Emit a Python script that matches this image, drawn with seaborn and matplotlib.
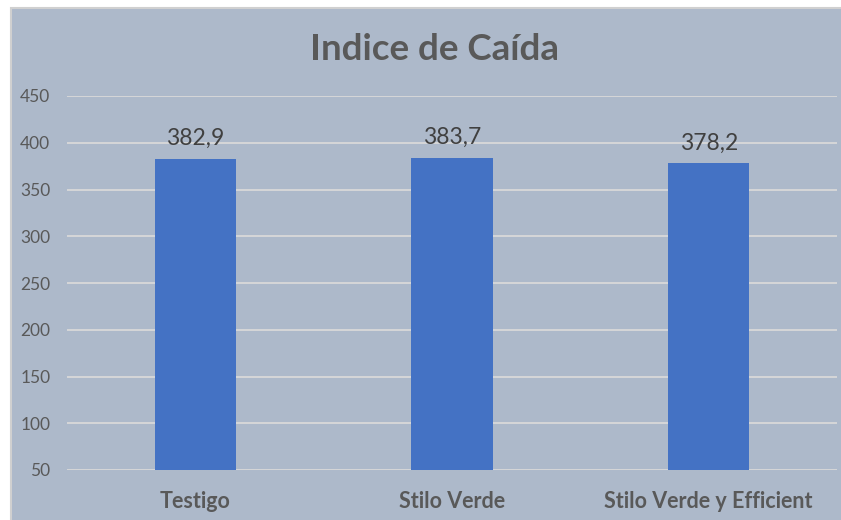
import seaborn as sns
import matplotlib.pyplot as plt
from matplotlib.patches import Rectangle
import pandas as pd

# Dados do gráfico
categorias = ["Testigo", "Stilo Verde", "Stilo Verde y Efficient"]
valores = [382.9, 383.7, 378.2]
rotulos = ["382,9", "383,7", "378,2"]
ticks_y = [50, 100, 150, 200, 250, 300, 350, 400, 450]

df = pd.DataFrame({"Categoria": categorias, "Valor": valores})

fundo = "#ADB9CA"
azul = "#4472C4"
cinza_texto = "#595959"

sns.set_style("white")
plt.rcParams["font.family"] = ["Lato", "DejaVu Sans"]

fig = plt.figure(figsize=(8.41, 5.2), dpi=100, facecolor="white")
# área do gráfico (fundo azulado com borda cinza)
fig.patches.append(Rectangle((11 / 841, -0.01), 1.0, (520 - 8) / 520 + 0.01,
                             transform=fig.transFigure, facecolor=fundo,
                             edgecolor="#D0D0D0", linewidth=1.5, zorder=-10))

ax = fig.add_axes([67 / 841, 50 / 520, (837 - 67) / 841, (470 - 96) / 520])
ax.set_facecolor("none")

sns.barplot(data=df, x="Categoria", y="Valor", color=azul, width=0.316,
            saturation=1, linewidth=0, edgecolor="none", ax=ax, zorder=3)

ax.set_ylim(50, 450)
ax.set_yticks(ticks_y)
ax.set_xlim(-0.5, 2.5)
ax.grid(axis="y", color="#D9D9D9", linewidth=1.3, zorder=0)
ax.set_axisbelow(True)
for s in ax.spines.values():
    s.set_visible(False)

ax.tick_params(axis="y", length=0, labelsize=12.5, labelcolor=cinza_texto, pad=12)
ax.tick_params(axis="x", length=0, labelsize=15.5, labelcolor=cinza_texto, pad=15)
for lbl in ax.get_xticklabels():
    lbl.set_fontweight("bold")
ax.set_xlabel("")
ax.set_ylabel("")

# rótulos de dados
for i, (v, r) in enumerate(zip(valores, rotulos)):
    ax.annotate(r, (i, v), xytext=(0, 7), textcoords="offset points",
                ha="center", va="bottom", fontsize=16.5, color="#404040")

fig.text(434 / 841, 1 - 50 / 520, "Indice de Caída", ha="center", va="center",
         fontsize=26.5, fontweight="bold", color=cinza_texto)

fig.savefig("out.png", dpi=100, facecolor=fig.get_facecolor())
